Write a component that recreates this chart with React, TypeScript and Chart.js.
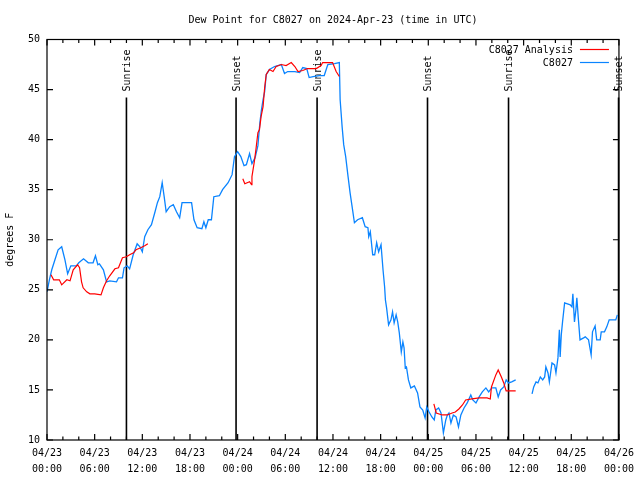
import React, { useEffect, useRef } from 'react';
import { Chart, registerables } from 'chart.js';

Chart.register(...registerables);

const FONT = '"DejaVu Sans Mono", "Liberation Mono", monospace';

const TITLE = 'Dew Point for C8027 on 2024-Apr-23 (time in UTC)';
const Y_TITLE = 'degrees F';
const DATE_LABELS = ['04/23', '04/23', '04/23', '04/23', '04/24', '04/24', '04/24', '04/24', '04/25', '04/25', '04/25', '04/25', '04/26'];
const TIME_LABELS = ['00:00', '06:00', '12:00', '18:00', '00:00', '06:00', '12:00', '18:00', '00:00', '06:00', '12:00', '18:00', '00:00'];
const Y_TICKS = [10, 15, 20, 25, 30, 35, 40, 45, 50];

const SUN_HOURS = [10.0, 23.8, 34.0, 47.9, 58.1, 71.95];
const SUN_LABELS = ['Sunrise', 'Sunset', 'Sunrise', 'Sunset', 'Sunrise', 'Sunset'];

const SERIES_NAMES = ['C8027 Analysis', 'C8027'];
const SERIES_COLORS = ['#ff0000', '#0a84ff'];

const ANALYSIS_HOURS = [
  0.5, 0.84, 1.55, 1.85, 2.5, 2.9, 3.3, 3.85, 4.1, 4.35, 4.55, 5.0, 5.4, 6.0, 6.8, 7.1, 7.5, 7.9, 8.55, 9.0,
  9.5, 10.0, 10.4, 10.9, 11.2, 11.8, 12.3, 12.7, 18,
  24.65, 24.9, 25.5, 25.75, 25.8, 26.1, 26.3, 26.55, 26.75, 26.95, 27.2, 27.4, 27.6, 28.0, 28.45, 28.85,
  29.5, 30.1, 30.75, 31.2, 31.6, 32.2, 32.8, 33.9, 34.5, 34.7, 35.95, 36.4, 36.8, 42,
  48.7, 49.0, 49.75, 50.4, 51.0, 51.4, 51.85, 52.3, 52.7, 53.5, 54.4, 55.4, 55.8, 55.95, 56.5, 56.8,
  57.2, 57.5, 57.8, 59.0,
];
const ANALYSIS_VALUES = [
  26.5, 26.0, 26.0, 25.5, 26.0, 25.9, 27.0, 27.5, 27.2, 25.8, 25.2, 24.8, 24.6, 24.6, 24.5, 25.2, 25.9, 26.4, 27.1, 27.2,
  28.2, 28.3, 28.5, 28.7, 29.0, 29.2, 29.4, 29.6, null,
  36.1, 35.6, 35.8, 35.5, 36.3, 37.8, 39.0, 40.7, 41.0, 42.3, 43.3, 45.2, 46.5, 47.0, 46.8, 47.3,
  47.5, 47.4, 47.7, 47.3, 46.8, 46.9, 47.1, 47.1, 47.4, 47.7, 47.7, 46.8, 46.3, null,
  13.6, 12.7, 12.5, 12.5, 12.7, 12.8, 13.1, 13.5, 14.0, 14.1, 14.2, 14.2, 14.1, 15.3, 16.5, 17.0,
  16.3, 15.7, 14.9, 14.9,
];

const OBS_HOURS = [
  0.0, 0.3, 0.6, 1.0, 1.4, 1.85, 2.26, 2.6, 3.0, 3.7, 4.0, 4.6, 5.2, 5.8, 6.1, 6.4, 6.6, 7.1, 7.5, 7.9,
  8.75, 9.0, 9.5, 9.7, 10.1, 10.4, 10.85, 11.35, 11.7, 12.0, 12.3, 12.7, 13.15, 13.6, 13.9, 14.2, 14.5, 14.75,
  15.0, 15.45, 15.9, 16.3, 16.7, 17.0, 17.7, 18.2, 18.5, 18.9, 19.5, 19.75, 20.0, 20.3, 20.7, 21.0, 21.7,
  22.1, 22.8, 23.3, 23.6, 24.0, 24.4, 24.8, 25.1, 25.5, 25.8, 26.2, 26.55, 26.8, 27.0, 27.2, 27.4, 27.6,
  28.0, 28.65, 29.5, 29.9, 30.3, 31.2, 31.8, 32.2, 32.7, 33.0, 33.5, 34.3, 34.9, 35.35, 36.2, 36.8, 36.9,
  37.15, 37.35, 37.6, 37.9, 38.15, 38.5, 38.7, 39.1, 39.7, 40.05, 40.4, 40.5, 40.7, 41.0, 41.25, 41.5,
  41.75, 42.05, 42.3, 42.5, 42.6, 42.75, 43.0, 43.3, 43.5, 43.7, 43.95, 44.15, 44.35, 44.6, 44.8, 44.95,
  45.1, 45.25, 45.5, 45.8, 46.25, 46.65, 46.95, 47.3, 47.6, 47.8, 48.1, 48.45, 48.75, 48.95, 49.3, 49.6,
  49.9, 50.2, 50.4, 50.6, 50.85, 51.15, 51.5, 51.8, 52.1, 52.5, 52.9, 53.35, 53.6, 54.0, 54.4, 54.8,
  55.25, 55.6, 56.0, 56.5, 56.8, 57.1, 57.5, 57.8, 58.1, 58.5, 59.0, 60,
  61.06, 61.27, 61.56, 61.8, 62.1, 62.4, 62.65, 62.8, 63.07, 63.24, 63.57, 63.9, 64.07, 64.32, 64.5,
  64.6, 64.74, 64.9, 65.16, 65.87, 66.08, 66.2, 66.4, 66.58, 66.7, 66.9, 67.1, 67.55, 67.76, 68.17,
  68.5, 68.67, 69.0, 69.2, 69.64, 69.77, 70.18, 70.47, 70.77, 71.1, 71.6, 71.8,
];
const OBS_VALUES = [
  24.8, 26.0, 27.0, 28.0, 29.0, 29.3, 28.0, 26.6, 27.4, 27.4, 27.7, 28.1, 27.7, 27.7, 28.4, 27.5, 27.6, 27.0, 25.8, 25.9,
  25.8, 26.2, 26.2, 27.2, 27.4, 27.1, 28.5, 29.6, 29.3, 28.8, 30.3, 31.0, 31.5, 32.8, 33.7, 34.3, 35.7, 34.3,
  32.8, 33.3, 33.5, 32.8, 32.2, 33.7, 33.7, 33.7, 32.0, 31.2, 31.1, 31.8, 31.2, 32.0, 32.0, 34.3, 34.4,
  35.0, 35.7, 36.5, 38.3, 38.8, 38.3, 37.4, 37.5, 38.6, 37.6, 38.2, 39.4, 41.7, 43.0, 44.0, 44.8, 46.5,
  47.0, 47.3, 47.5, 46.6, 46.8, 46.8, 46.7, 47.2, 47.1, 46.2, 46.3, 46.4, 46.4, 47.5, 47.6, 47.7, 44.0,
  41.3, 39.5, 38.3, 36.3, 34.7, 32.8, 31.7, 32.0, 32.2, 31.3, 31.2, 30.3, 30.8, 28.5, 28.5, 29.7,
  28.8, 29.5, 27.0, 25.3, 24.0, 23.2, 21.5, 22.0, 22.8, 21.7, 22.5, 21.8, 20.7, 18.8, 19.8, 19.2,
  17.2, 17.3, 16.0, 15.2, 15.4, 14.7, 13.3, 13.0, 12.2, 13.3, 12.8, 12.3, 12.0, 13.0, 13.2, 12.7,
  10.7, 12.0, 12.5, 12.7, 11.7, 12.5, 12.3, 11.3, 12.5, 13.2, 13.7, 14.5, 14.0, 13.7, 14.3, 14.8,
  15.2, 14.8, 15.2, 15.2, 14.3, 15.0, 15.3, 16.0, 15.7, 15.8, 16.0, null,
  14.6, 15.3, 15.8, 15.7, 16.3, 16.0, 16.3, 17.3, 16.7, 15.8, 17.7, 17.5, 16.7, 18.2, 21.0,
  18.3, 20.5, 21.8, 23.7, 23.5, 23.3, 24.6, 21.8, 23.0, 24.2, 22.0, 20.0, 20.2, 20.3, 20.0,
  18.5, 20.8, 21.4, 20.0, 20.0, 20.8, 20.8, 21.3, 22.0, 22.0, 22.0, 22.5,
];

const toPoints = (xs: number[], ys: (number | null)[]) => xs.map((x, i) => ({ x, y: ys[i] }));

const framePlugin = {
  id: 'gnuplotFrame',
  beforeDatasetsDraw(chart: any) {
    const { ctx, chartArea } = chart;
    const xs = chart.scales.x;
    const ys = chart.scales.y;
    const lineTop = ys.getPixelForValue(44.2);
    ctx.save();
    ctx.strokeStyle = '#000';
    ctx.lineWidth = 1.6;
    SUN_HOURS.forEach((h, i) => {
      const px = xs.getPixelForValue(h);
      ctx.beginPath();
      ctx.moveTo(px, lineTop);
      ctx.lineTo(px, chartArea.bottom);
      ctx.stroke();
      ctx.save();
      ctx.translate(px + 1, lineTop - 6);
      ctx.rotate(-Math.PI / 2);
      ctx.fillStyle = '#000';
      ctx.font = `10px ${FONT}`;
      ctx.textAlign = 'left';
      ctx.textBaseline = 'middle';
      ctx.fillText(SUN_LABELS[i], 0, 0);
      ctx.restore();
    });
    ctx.restore();
  },
  afterDraw(chart: any) {
    const { ctx, chartArea } = chart;
    const xs = chart.scales.x;
    const ys = chart.scales.y;
    const { left, right, top, bottom } = chartArea;
    ctx.save();
    ctx.strokeStyle = '#000';
    ctx.lineWidth = 1.2;
    ctx.strokeRect(left, top, right - left, bottom - top);
    ctx.beginPath();
    for (let h = 0; h <= 72; h += 2) {
      const px = xs.getPixelForValue(h);
      const len = h % 6 === 0 ? 6 : 3.5;
      ctx.moveTo(px, bottom);
      ctx.lineTo(px, bottom - len);
      ctx.moveTo(px, top);
      ctx.lineTo(px, top + len);
    }
    Y_TICKS.forEach((v) => {
      const py = ys.getPixelForValue(v);
      ctx.moveTo(left, py);
      ctx.lineTo(left + 6, py);
      ctx.moveTo(right, py);
      ctx.lineTo(right - 6, py);
    });
    ctx.stroke();

    // title
    ctx.fillStyle = '#000';
    ctx.font = `10px ${FONT}`;
    ctx.textAlign = 'center';
    ctx.textBaseline = 'middle';
    ctx.fillText(TITLE, (left + right) / 2, 20.5);

    // legend
    ctx.textAlign = 'right';
    chart.data.datasets.forEach((ds: any, i: number) => {
      const y = top + 10 + i * 13;
      ctx.fillStyle = '#000';
      ctx.fillText(ds.label, right - 46, y + 0.5);
      ctx.strokeStyle = ds.borderColor;
      ctx.lineWidth = 1.2;
      ctx.beginPath();
      ctx.moveTo(right - 39, y);
      ctx.lineTo(right - 10, y);
      ctx.stroke();
    });
    ctx.restore();
  },
};

export default function App() {
  const canvasRef = useRef<HTMLCanvasElement | null>(null);

  useEffect(() => {
    if (!canvasRef.current) return;
    const chart = new Chart(canvasRef.current, {
      type: 'line',
      data: {
        datasets: [
          {
            label: SERIES_NAMES[0],
            data: toPoints(ANALYSIS_HOURS, ANALYSIS_VALUES),
            borderColor: SERIES_COLORS[0],
            borderWidth: 1.2,
            pointRadius: 0,
            spanGaps: false,
            tension: 0,
          },
          {
            label: SERIES_NAMES[1],
            data: toPoints(OBS_HOURS, OBS_VALUES),
            borderColor: SERIES_COLORS[1],
            borderWidth: 1.3,
            pointRadius: 0,
            spanGaps: false,
            tension: 0,
          },
        ],
      },
      options: {
        responsive: false,
        animation: false,
        layout: { padding: { top: 39.5, right: 19.5, left: 0, bottom: 0 } },
        plugins: {
          legend: { display: false },
          tooltip: { enabled: false },
          title: { display: false },
        },
        elements: { point: { radius: 0 } },
        scales: {
          x: {
            type: 'linear',
            min: 0,
            max: 72,
            grid: { display: false, drawTicks: false },
            border: { display: false },
            ticks: {
              stepSize: 2,
              autoSkip: false,
              maxRotation: 0,
              minRotation: 0,
              padding: 6,
              color: '#000',
              font: { family: FONT, size: 10, lineHeight: 1.55 },
              callback: (value: any) => {
                const v = Number(value);
                if (v % 6 !== 0) return '';
                const i = v / 6;
                return [DATE_LABELS[i], TIME_LABELS[i]];
              },
            },
            afterFit: (s: any) => {
              s.height = 40;
            },
          },
          y: {
            min: 10,
            max: 50,
            grid: { display: false, drawTicks: false },
            border: { display: false },
            ticks: {
              stepSize: 5,
              padding: 7,
              color: '#000',
              font: { family: FONT, size: 10 },
            },
            title: {
              display: true,
              text: Y_TITLE,
              color: '#000',
              font: { family: FONT, size: 10 },
              padding: { top: 4, bottom: 4 },
            },
            afterFit: (s: any) => {
              s.width = 47;
            },
          },
        },
      },
      plugins: [framePlugin],
    });
    return () => chart.destroy();
  }, []);

  return (
    <div style={{ position: 'absolute', left: 0, top: 0, width: 640, height: 480, background: '#fff' }}>
      <canvas ref={canvasRef} width={640} height={480} style={{ display: 'block' }} />
    </div>
  );
}
